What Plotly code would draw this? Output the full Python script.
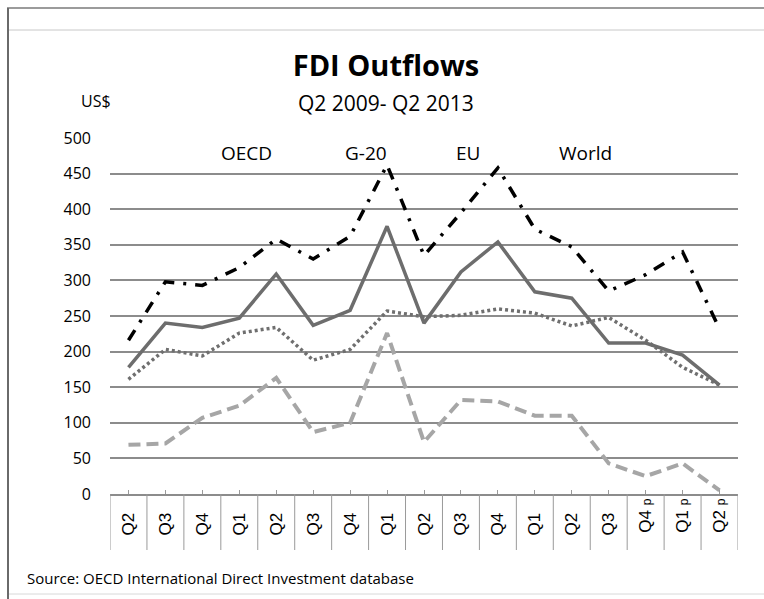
import plotly.graph_objects as go

categories = ["Q2", "Q3", "Q4", "Q1", "Q2", "Q3", "Q4", "Q1", "Q2", "Q3", "Q4", "Q1", "Q2", "Q3", "Q4", "Q1", "Q2"]
provisional = [False]*14 + [True, True, True]

oecd = [178, 240, 234, 247, 309, 237, 258, 376, 240, 312, 354, 284, 275, 212, 212, 195, 153]
g20 = [161, 203, 194, 226, 234, 188, 203, 257, 249, 251, 260, 254, 236, 248, 216, 178, 153]
eu = [69, 71, 107, 124, 163, 87, 100, 226, 73, 132, 130, 110, 110, 43, 25, 43, 5]
world = [216, 298, 293, 318, 358, 330, 362, 462, 335, 395, 458, 372, 347, 285, 308, 340, 232]

series_labels = ["OECD", "G-20", "EU", "World"]

FONT = "Open Sans"
x = list(range(len(categories)))
ticktext = []
for c, p in zip(categories, provisional):
    if p:
        ticktext.append(c + "\u00a0<span style='font-size:12px'>p</span>")
    else:
        ticktext.append(c + "\u00a0\u00a0\u00a0")

fig = go.Figure()
fig.add_trace(go.Scatter(x=x, y=eu, mode="lines", name="EU",
                         line=dict(color="#a6a6a6", width=4, dash="12px,6px")))
fig.add_trace(go.Scatter(x=x, y=g20, mode="lines", name="G-20",
                         line=dict(color="#6f6f6f", width=3.5, dash="3px,3px")))
fig.add_trace(go.Scatter(x=x, y=oecd, mode="lines", name="OECD",
                         line=dict(color="#6d6d6d", width=3.5)))
fig.add_trace(go.Scatter(x=x, y=world, mode="lines", name="World",
                         line=dict(color="#000000", width=3.5, dash="12px,9px,3px,9px")))

# plot area in pixels: x 110..738, y 138..494
L, R, T, B = 110, 738, 138, 494
W, H = 764, 599
def px(v):
    return (v - L) / (R - L)
def py(v):
    return (B - v) / (B - T)

shapes = []
# category dividers
for i in range(len(categories) + 1):
    shapes.append(dict(type="line", xref="x", yref="paper", x0=i - 0.5, x1=i - 0.5,
                       y0=0, y1=py(550), line=dict(color="#9a9a9a", width=1)))
# outer frame
shapes.append(dict(type="line", xref="paper", yref="paper", x0=px(7), x1=px(764), y0=py(8), y1=py(8),
                   line=dict(color="#7a7a7a", width=1.5)))
shapes.append(dict(type="line", xref="paper", yref="paper", x0=px(8), x1=px(8), y0=py(8), y1=py(599),
                   line=dict(color="#6a6a6a", width=2)))
shapes.append(dict(type="line", xref="paper", yref="paper", x0=px(9), x1=px(764), y0=py(30), y1=py(30),
                   line=dict(color="#c8c8c8", width=1)))
shapes.append(dict(type="line", xref="paper", yref="paper", x0=px(9), x1=px(764), y0=py(594), y1=py(594),
                   line=dict(color="#d8d8d8", width=1)))

annotations = []
legend_x = [246, 366, 468, 585]
for lab, lx in zip(series_labels, legend_x):
    annotations.append(dict(text=lab, x=px(lx), y=py(153), xref="paper", yref="paper",
                            showarrow=False, xanchor="center", yanchor="middle",
                            font=dict(family=FONT, size=19, color="#000")))
annotations.append(dict(text="Q2 2009- Q2 2013", x=px(386), y=py(103), xref="paper", yref="paper",
                        showarrow=False, xanchor="center", yanchor="middle",
                        font=dict(family=FONT, size=21, color="#000")))
annotations.append(dict(text="US$", x=px(96), y=py(101), xref="paper", yref="paper",
                        showarrow=False, xanchor="center", yanchor="middle",
                        font=dict(family=FONT, size=16, color="#000")))
annotations.append(dict(text="Source: OECD International Direct Investment database",
                        x=px(25), y=py(578), xref="paper", yref="paper",
                        showarrow=False, xanchor="left", yanchor="middle",
                        font=dict(family=FONT, size=15, color="#000")))

fig.update_layout(
    width=W, height=H,
    margin=dict(l=L, r=W - R, t=T, b=H - B),
    paper_bgcolor="white", plot_bgcolor="white",
    showlegend=False,
    title=dict(text="<b>FDI Outflows</b>", x=386 / W, xanchor="center", y=1 - 66 / H, yanchor="middle",
               font=dict(family=FONT, size=29, color="#000")),
    shapes=shapes,
    annotations=annotations,
)
fig.update_yaxes(range=[0, 500], dtick=50, showgrid=True, gridcolor="#8c8c8c", gridwidth=1.5,
                 zeroline=False, showline=False, ticks="", ticklabelstandoff=18,
                 tickfont=dict(family=FONT, size=16, color="#000"))
fig.update_xaxes(range=[-0.5, len(categories) - 0.5], tickmode="array", tickvals=x, ticktext=ticktext,
                 tickangle=-90, showgrid=False, zeroline=False, showline=True, linecolor="#8c8c8c",
                 linewidth=1.5, ticks="inside", ticklen=4, tickcolor="#9a9a9a", ticklabelstandoff=-4,
                 tickfont=dict(family="Liberation Sans", size=17, color="#000"))

fig.write_html("out.html")
